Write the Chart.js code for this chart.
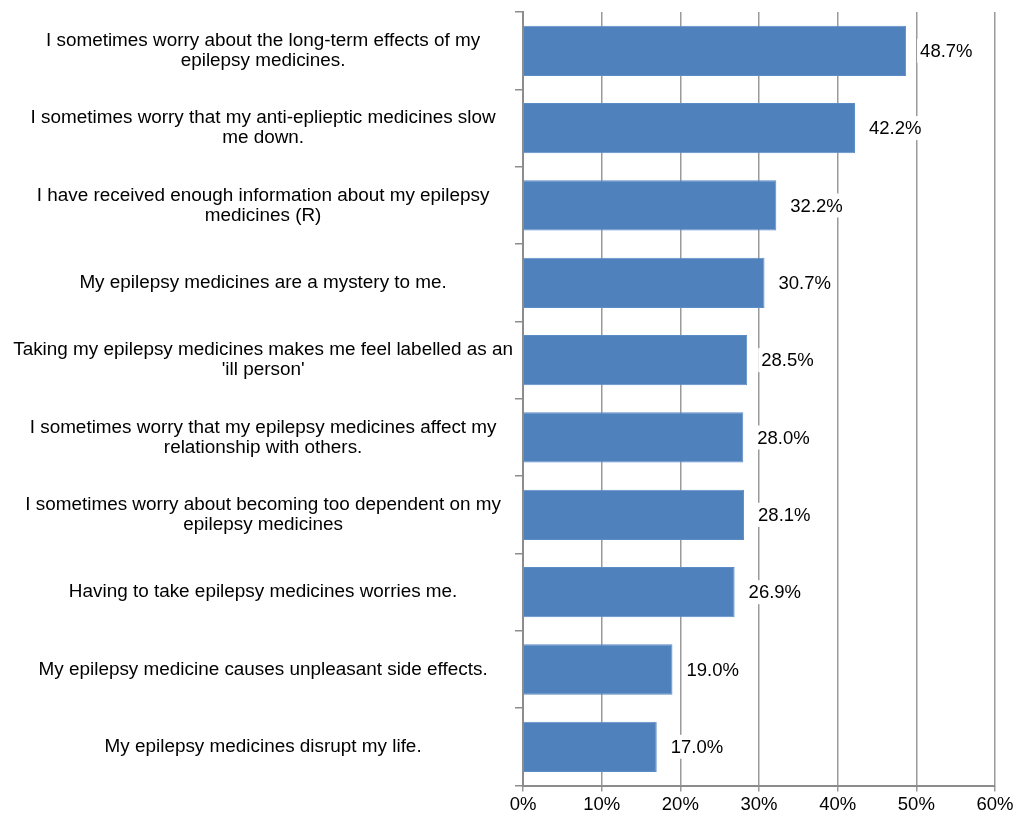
<!DOCTYPE html>
<html>
<head>
<meta charset="utf-8">
<script src="https://cdn.jsdelivr.net/npm/chart.js"></script>
<style>
  html, body { margin: 0; padding: 0; background: #fff; }
  #wrap { width: 1021px; height: 816px; position: relative; }
</style>
</head>
<body>
<div id="wrap"><canvas id="myChart"></canvas></div>
<script>
"use strict";

// Chart data
const statements = [
    ["I sometimes worry about the long-term effects of my", "epilepsy medicines."],
    ["I sometimes worry that my anti-eplieptic medicines slow", "me down."],
    ["I have received enough information about my epilepsy", "medicines (R)"],
    ["My epilepsy medicines are a mystery to me."],
    ["Taking my epilepsy medicines makes me feel labelled as an", "'ill person'"],
    ["I sometimes worry that my epilepsy medicines affect my", "relationship with others."],
    ["I sometimes worry about becoming too dependent on my", "epilepsy medicines"],
    ["Having to take epilepsy medicines worries me."],
    ["My epilepsy medicine causes unpleasant side effects."],
    ["My epilepsy medicines disrupt my life."]
];
const percentAgree = [48.7, 42.2, 32.2, 30.7, 28.5, 28.0, 28.1, 26.9, 19.0, 17.0];
const axisTicks = [0, 10, 20, 30, 40, 50, 60];

const fontFamily = "'Liberation Sans', Arial, sans-serif";
const fontSize = 18.5;

// Writes the value next to each bar on a white box (hides the gridline behind it)
const valueLabels = {
    id: 'valueLabels',
    afterDatasetsDraw(chart) {
        const { ctx } = chart;
        const meta = chart.getDatasetMeta(0);
        ctx.save();
        ctx.font = fontSize + 'px ' + fontFamily;
        ctx.textBaseline = 'middle';
        ctx.textAlign = 'left';
        meta.data.forEach((bar, i) => {
            const text = percentAgree[i].toFixed(1) + '%';
            const x = bar.x + 14;
            const w = ctx.measureText(text).width;
            ctx.fillStyle = '#ffffff';
            ctx.fillRect(x - 3, bar.y - 12, w + 6, 24);
            ctx.fillStyle = '#000000';
            ctx.fillText(text, x, bar.y + 1);
        });
        ctx.restore();
    }
};

new Chart(document.getElementById('myChart'), {
    type: 'bar',
    data: {
        labels: statements,
        datasets: [{
            data: percentAgree,
            backgroundColor: '#4F81BD',
            borderColor: '#5b8cc6',
            borderWidth: 1,
            barPercentage: 0.65,
            categoryPercentage: 1.0
        }]
    },
    options: {
        indexAxis: 'y',
        responsive: true,
        maintainAspectRatio: false,
        animation: false,
        layout: { padding: { top: 8, right: 26, bottom: -2, left: 0 } },
        plugins: {
            legend: { display: false },
            tooltip: { enabled: false }
        },
        scales: {
            x: {
                min: axisTicks[0],
                max: axisTicks[axisTicks.length - 1],
                afterBuildTicks(scale) {
                    scale.ticks = axisTicks.map(v => ({ value: v }));
                },
                ticks: {
                    callback: v => v + '%',
                    color: '#000',
                    padding: 4,
                    font: { family: fontFamily, size: fontSize, lineHeight: 1.0 }
                },
                grid: {
                    color: '#9a9a9a',
                    lineWidth: 1.5,
                    tickLength: 6
                },
                border: { color: '#8c8c8c', width: 2 }
            },
            y: {
                afterFit(scale) { scale.width = 523; },
                ticks: {
                    crossAlign: 'center',
                    color: '#000',
                    padding: 2,
                    autoSkip: false,
                    font: { family: fontFamily, size: 18.9, lineHeight: 1.07 }
                },
                grid: {
                    drawOnChartArea: false,
                    color: '#8c8c8c',
                    lineWidth: 1.5,
                    tickLength: 8
                },
                border: { color: '#8c8c8c', width: 2 }
            }
        }
    },
    plugins: [valueLabels]
});
</script>
</body>
</html>
